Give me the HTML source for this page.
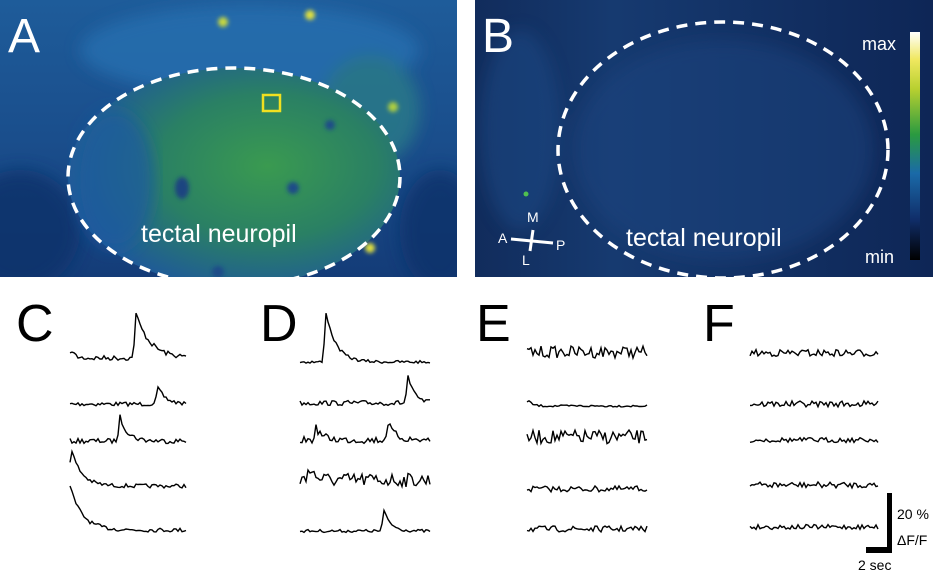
<!DOCTYPE html>
<html><head><meta charset="utf-8">
<style>
html,body{margin:0;padding:0;background:#fff;}
body{width:933px;height:573px;overflow:hidden;position:relative;font-family:"Liberation Sans",sans-serif;}
</style></head>
<body>
<svg id="s" width="933" height="573" viewBox="0 0 933 573" xmlns="http://www.w3.org/2000/svg">
<defs>
<clipPath id="cA"><rect x="0" y="0" width="457" height="277"/></clipPath>
<clipPath id="cB"><rect x="475" y="0" width="458" height="277"/></clipPath>
<radialGradient id="gA" cx="0.6" cy="0.45" r="0.6">
<stop offset="0" stop-color="#3a9a50"/>
<stop offset="0.55" stop-color="#2a8064"/>
<stop offset="1" stop-color="#1f5a98"/>
</radialGradient>
<linearGradient id="bgA" x1="0" y1="0" x2="0" y2="1">
<stop offset="0" stop-color="#1e5c9a"/>
<stop offset="0.5" stop-color="#1a4e8c"/>
<stop offset="1" stop-color="#143c78"/>
</linearGradient>
<linearGradient id="bgB" x1="0" y1="0" x2="1" y2="0">
<stop offset="0" stop-color="#112c5c"/>
<stop offset="0.3" stop-color="#163a70"/>
<stop offset="1" stop-color="#0e2656"/>
</linearGradient>
<linearGradient id="cb" x1="0" y1="0" x2="0" y2="1">
<stop offset="0" stop-color="#ffffff"/>
<stop offset="0.12" stop-color="#f0e860"/>
<stop offset="0.25" stop-color="#b8d030"/>
<stop offset="0.45" stop-color="#2a9a40"/>
<stop offset="0.62" stop-color="#1a6aa8"/>
<stop offset="0.82" stop-color="#102e6a"/>
<stop offset="1" stop-color="#000000"/>
</linearGradient>
<filter id="bl"><feGaussianBlur stdDeviation="8"/></filter>
<filter id="bs"><feGaussianBlur stdDeviation="2"/></filter>
</defs>
<g clip-path="url(#cA)">
<rect x="0" y="0" width="457" height="277" fill="url(#bgA)"/>
<g filter="url(#bl)" opacity="0.8">
<ellipse cx="250" cy="50" rx="170" ry="45" fill="#2570b0"/>
<ellipse cx="370" cy="110" rx="50" ry="55" fill="#2a7c88"/>
<ellipse cx="20" cy="230" rx="60" ry="60" fill="#10306a"/>
<ellipse cx="440" cy="230" rx="40" ry="60" fill="#10306a"/>
</g>
<ellipse cx="234" cy="177" rx="166" ry="109" fill="url(#gA)"/>
<g filter="url(#bl)"><ellipse cx="115" cy="180" rx="40" ry="70" fill="#1f5aa0" opacity="0.7"/></g>
<g filter="url(#bs)">
<ellipse cx="182" cy="188" rx="7" ry="11" fill="#1a4480"/>
<circle cx="293" cy="188" r="6" fill="#1d4c88"/>
<circle cx="330" cy="125" r="5" fill="#1d4c88"/>
<circle cx="218" cy="272" r="6" fill="#1d4c88"/>
<circle cx="310" cy="15" r="5" fill="#e0e040"/>
<circle cx="223" cy="22" r="5" fill="#c8d840"/>
<circle cx="393" cy="107" r="5" fill="#b0d040"/>
<circle cx="370" cy="248" r="5" fill="#e0e040"/>
</g>
<ellipse cx="234" cy="177" rx="166" ry="109" fill="none" stroke="#fff" stroke-width="3.5" stroke-dasharray="11,8"/>
</g>
<rect x="263" y="95" width="17" height="16" fill="none" stroke="#f0e020" stroke-width="2.5"/>
<text x="8" y="52" font-size="48" fill="#fff">A</text>
<text x="141" y="242" font-size="25" fill="#fff">tectal neuropil</text>
<g clip-path="url(#cB)">
<rect x="475" y="0" width="458" height="277" fill="url(#bgB)"/>
<g filter="url(#bl)" opacity="0.5">
<ellipse cx="520" cy="130" rx="40" ry="100" fill="#1e4c88"/>
<ellipse cx="723" cy="150" rx="150" ry="110" fill="#1a4480"/>
</g>
<circle cx="526" cy="194" r="2.5" fill="#50c050"/>
<ellipse cx="723" cy="150" rx="165" ry="128" fill="none" stroke="#fff" stroke-width="3.5" stroke-dasharray="11,8"/>
</g>
<text x="482" y="52" font-size="48" fill="#fff">B</text>
<text x="626" y="246" font-size="25" fill="#fff">tectal neuropil</text>
<rect x="910" y="32" width="10" height="228" fill="url(#cb)"/>
<text x="862" y="50" font-size="18" fill="#fff">max</text>
<text x="865" y="263" font-size="18" fill="#fff">min</text>
<line x1="511" y1="239" x2="553" y2="243" stroke="#fff" stroke-width="3"/>
<line x1="533" y1="230" x2="530" y2="251" stroke="#fff" stroke-width="3"/>
<text x="527" y="222" font-size="14" fill="#fff">M</text>
<text x="498" y="243" font-size="14" fill="#fff">A</text>
<text x="556" y="250" font-size="14" fill="#fff">P</text>
<text x="522" y="265" font-size="14" fill="#fff">L</text>
<text x="16" y="341" font-size="52" fill="#000">C</text>
<text x="260" y="341" font-size="52" fill="#000">D</text>
<text x="476" y="341" font-size="52" fill="#000">E</text>
<text x="703" y="341" font-size="52" fill="#000">F</text>
<g id="tr" fill="none" stroke="#000" stroke-width="1.4"></g>
<rect x="887" y="493" width="5" height="60" fill="#000"/>
<rect x="866" y="547" width="26" height="6" fill="#000"/>
<text x="897" y="519" font-size="14" fill="#000">20 %</text>
<text x="897" y="545" font-size="14" fill="#000">ΔF/F</text>
<text x="858" y="570" font-size="14" fill="#000">2 sec</text>
</svg>
<script>
var seed=7;function r(){seed=(seed*16807)%2147483647;return seed/2147483647-0.5;}
function tr(x0,x1,y,noise,events){
 var pts=[];
 for(var x=x0;x<=x1;x+=2){
  var v=r()*noise;
  events.forEach(function(e){
   if(x>=e[0]-3){var d=x-e[0]; if(d<0) v-=e[1]*(d+3)/3; else v-=e[1]*Math.exp(-d/e[2]);}
  });
  pts.push(x.toFixed(1)+","+(y+v).toFixed(1));
 }
 var p=document.createElementNS("http://www.w3.org/2000/svg","polyline");
 p.setAttribute("points",pts.join(" "));document.getElementById("tr").appendChild(p);
}
tr(70,187,358,5,[[72,8,3],[136,44,14]]);
tr(70,187,404,4,[[158,16,8]]);
tr(70,187,441,5,[[120,24,8]]);
tr(70,187,486,4,[[71,38,10]]);
tr(70,187,530,4,[[70,44,12]]);
tr(300,431,362,3,[[326,50,10]]);
tr(300,431,403,5,[[408,27,6]]);
tr(300,431,440,7,[[316,12,7],[388,17,7]]);
tr(300,431,480,14,[[309,16,5]]);
tr(300,431,531,3,[[384,20,7]]);
tr(527,647,352,12,[]);
tr(527,647,406,2,[[528,6,4]]);
tr(527,647,437,14,[]);
tr(527,647,489,6,[]);
tr(527,647,529,6,[]);
tr(750,879,353,7,[]);
tr(750,879,404,6,[]);
tr(750,879,440,5,[]);
tr(750,879,485,6,[]);
tr(750,879,527,5,[]);
</script>
</body></html>
